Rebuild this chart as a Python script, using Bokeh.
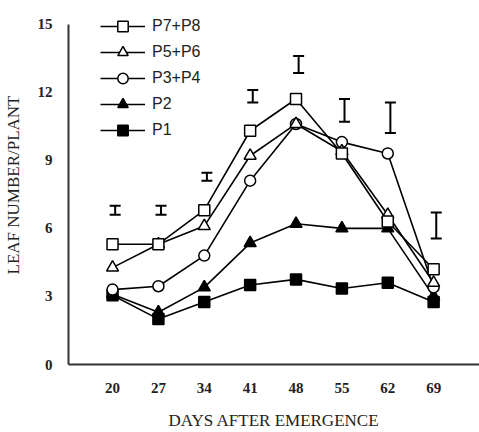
from bokeh.plotting import figure
from bokeh.models import ColumnDataSource, Whisker, TeeHead, Range1d, FixedTicker, Legend, LegendItem
from bokeh.embed import file_html
from bokeh.resources import INLINE

days = [20, 27, 34, 41, 48, 55, 62, 69]
p7p8 = [5.3, 5.3, 6.8, 10.3, 11.7, 9.3, 6.3, 4.2]
p5p6 = [4.27, 5.3, 6.1, 9.2, 10.6, 9.4, 6.6, 3.6]
p3p4 = [3.3, 3.45, 4.8, 8.1, 10.6, 9.8, 9.3, 3.4]
p2 = [3.1, 2.3, 3.4, 5.35, 6.2, 6.0, 6.0, 3.0]
p1 = [3.05, 2.0, 2.75, 3.5, 3.75, 3.35, 3.6, 2.75]
err_low = [6.6, 6.6, 8.1, 11.55, 12.85, 10.7, 10.2, 5.55]
err_high = [7.0, 7.0, 8.45, 12.1, 13.6, 11.7, 11.55, 6.7]
y_ticks = [0, 3, 6, 9, 12, 15]

p = figure(width=479, height=432, output_backend="svg", toolbar_location=None,
           x_range=Range1d(13.28, 76.0), y_range=Range1d(0, 15.82),
           min_border_left=68, min_border_right=0, min_border_top=5, min_border_bottom=62)
p.outline_line_color = None
p.grid.grid_line_color = None
p.background_fill_color = "white"

series = [
    ("P7+P8", p7p8, "square", "white"),
    ("P5+P6", p5p6, "triangle", "white"),
    ("P3+P4", p3p4, "circle", "white"),
    ("P2", p2, "triangle", "black"),
    ("P1", p1, "square", "black"),
]
items = []
for name, vals, marker, fill in reversed(series):
    src = ColumnDataSource(dict(x=days, y=vals))
    l = p.line("x", "y", source=src, line_color="black", line_width=1.6)
    size = 12 if marker == "triangle" else 11
    s = p.scatter("x", "y", source=src, marker=marker, size=size, fill_color=fill,
                  line_color="black", line_width=1.5)
    items.append(LegendItem(label=name, renderers=[l, s]))
items = list(reversed(items))

err_src = ColumnDataSource(dict(x=[d + 0.4 for d in days], lo=err_low, hi=err_high))
w = Whisker(base="x", lower="lo", upper="hi", source=err_src, dimension="height",
            line_color="black", line_width=2,
            upper_head=TeeHead(size=11, line_color="black", line_width=2),
            lower_head=TeeHead(size=11, line_color="black", line_width=2))
p.add_layout(w)

legend = Legend(items=items, location=(32, 221), padding=0, margin=0, spacing=0,
                glyph_width=45, glyph_height=26, label_standoff=7,
                label_text_font="Liberation Sans", label_text_font_size="16px",
                label_text_color="#222222",
                border_line_color=None, background_fill_alpha=0)
p.add_layout(legend)

for ax in (p.xaxis[0], p.yaxis[0]):
    ax.axis_line_width = 2
    ax.axis_line_color = "#333333"
    ax.major_tick_line_color = None
    ax.minor_tick_line_color = None
    ax.major_label_text_font = "Liberation Serif"
    ax.major_label_text_font_style = "bold"
    ax.major_label_text_font_size = "15px"
    ax.major_label_text_color = "#222222"
    ax.axis_label_text_font = "Liberation Serif"
    ax.axis_label_text_font_style = "normal"
    ax.axis_label_text_font_size = "17px"
    ax.axis_label_text_color = "#222222"

p.yaxis.bounds = (0, 15)
p.xaxis.ticker = FixedTicker(ticks=days)
p.yaxis.ticker = FixedTicker(ticks=y_ticks)
p.xaxis.axis_label = "DAYS AFTER EMERGENCE"
p.yaxis.axis_label = "LEAF NUMBER/PLANT"
p.xaxis.major_label_standoff = 12
p.xaxis.axis_label_standoff = 15
p.yaxis.major_label_standoff = 10
p.yaxis.axis_label_standoff = 12

open("out.html", "w").write(file_html(p, INLINE))
